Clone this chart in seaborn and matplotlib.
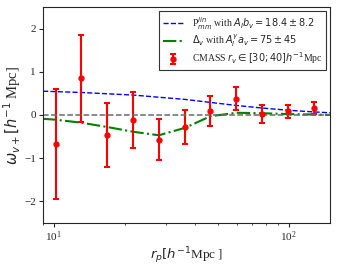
import numpy as np
import seaborn as sns
import matplotlib.pyplot as plt

# data
rp = [10.2, 13.1, 16.9, 21.8, 28.0, 36.1, 46.4, 59.8, 76.9, 99.0, 127.4]
w_obs = [-0.67, 0.845, -0.47, -0.12, -0.57, -0.28, 0.09, 0.38, 0.02, 0.08, 0.155]
w_err = [1.27, 1.01, 0.74, 0.64, 0.47, 0.39, 0.35, 0.26, 0.20, 0.14, 0.14]

rp_model = [9.0, 10.2, 13.1, 16.9, 21.8, 28.0, 36.1, 46.4, 59.8, 76.9, 99.0, 127.4, 150.0]
w_lin = [0.55, 0.54, 0.52, 0.49, 0.46, 0.41, 0.36, 0.29, 0.22, 0.16, 0.11, 0.07, 0.05]
w_void = [-0.09, -0.11, -0.18, -0.28, -0.39, -0.47, -0.30, -0.03, 0.05, 0.04, 0.02, 0.01, 0.0]

sns.set_style("ticks")
plt.rcParams['font.family'] = ['Liberation Serif', 'DejaVu Serif']
plt.rcParams['mathtext.fontset'] = 'dejavusans'

fig, ax = plt.subplots(figsize=(3.39, 2.67), dpi=100)

sns.lineplot(x=rp_model, y=w_lin, ax=ax, color='blue', linestyle='--', linewidth=1.0,
             label=r'P$^{lin}_{mm}$ with $A_I b_v = 18.4 \pm 8.2$')
sns.lineplot(x=rp_model, y=w_void, ax=ax, color='green', linestyle='-.', linewidth=1.5,
             label=r'$\Delta_v$ with $A_I^{\gamma} a_v = 75 \pm 45$')
ax.errorbar(rp, w_obs, yerr=w_err, fmt='o', color='red', markersize=3.5, capsize=2.5,
            elinewidth=1.5, capthick=1.5,
            label=r'CMASS $r_v \in [30; 40] h^{-1}$Mpc')
ax.axhline(0, color='dimgray', linestyle='--', linewidth=1.1)

ax.set_xscale('log')
ax.set_xlim(9.0, 150)
ax.set_ylim(-2.5, 2.5)
ax.set_yticks([-2, -1, 0, 1, 2])
ax.tick_params(labelsize=8, length=3, pad=2)
ax.tick_params(which='minor', length=1.5)
for s in ax.spines.values():
    s.set_visible(True)
    s.set_linewidth(0.8)

ax.set_xlabel(r'$r_p [h^{-1}$Mpc ]', fontsize=9.5, labelpad=1)
ax.set_ylabel(r'$\omega_{v+} [h^{-1}$ Mpc]', fontsize=10.5, labelpad=1)

leg = ax.legend(loc='upper right', fontsize=7, frameon=True, fancybox=False,
                edgecolor='black', handlelength=2.2, borderaxespad=0.4, labelspacing=0.12)
leg.get_frame().set_linewidth(0.8)

fig.subplots_adjust(left=0.127, right=0.974, top=0.974, bottom=0.165)
fig.savefig('out.png', dpi=100)
